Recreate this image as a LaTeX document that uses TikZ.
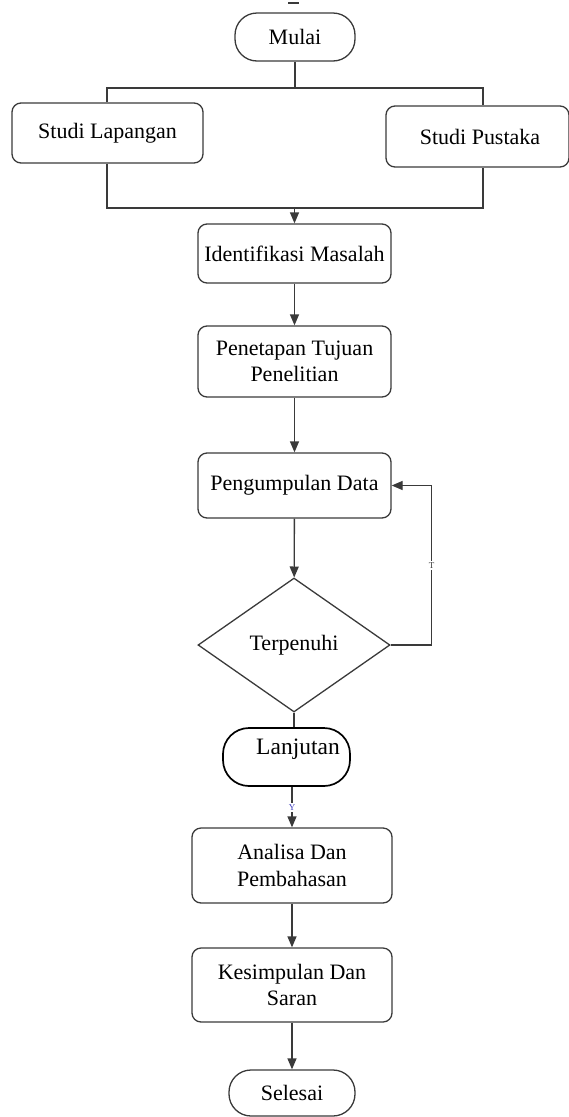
\documentclass[tikz,border=0pt]{standalone}
\usepackage{fontspec}
\setmainfont{Liberation Serif}
\usetikzlibrary{shapes.geometric,arrows.meta}
\definecolor{garis}{HTML}{3A3A3A}
\begin{document}
\begin{tikzpicture}[x=1pt, y=-1pt,
    garis/.style={draw=garis, line width=1.3pt},
    arr/.style={garis, -{Triangle[length=11pt,width=9pt]}},
    proses/.style={garis, rounded corners=9pt, font=\fontsize{22}{26.5}\selectfont, align=center, inner sep=0pt},
    terminal/.style={garis, rounded corners=22pt, font=\fontsize{22}{26.5}\selectfont, inner sep=0pt},
    kondisi/.style={garis, diamond, font=\fontsize{22}{26.5}\selectfont, inner sep=0pt},
    lbl/.style={fill=white, inner sep=1.5pt, font=\fontsize{9}{10}\selectfont}]
  \useasboundingbox (0,0) rectangle (568,1117);

  \draw [garis] (288,3) -- (299,3);

  \node [terminal, minimum width=120pt, minimum height=48pt] (mulai) at (295,37) {Mulai};
  \node [proses, minimum width=191pt, minimum height=60pt] (lapangan) at (107.5,133) {Studi Lapangan};
  \node [proses, minimum width=183pt, minimum height=61pt] (pustaka) at (477.5,136.5) {\hspace{5pt}Studi Pustaka};
  \node [proses, minimum width=193pt, minimum height=59pt] (ident) at (294.5,253.5) {Identifikasi Masalah};
  \node [proses, minimum width=193pt, minimum height=71pt] (tujuan) at (294.5,361.5) {Penetapan Tujuan\\Penelitian};
  \node [proses, minimum width=193pt, minimum height=65pt] (kumpul) at (294.5,485.5) {Pengumpulan Data};
  \node [kondisi, minimum width=192pt, minimum height=134pt] (cek) at (294,645) {Terpenuhi};
  \node [draw=black, line width=1.7pt, rounded corners=26pt, minimum width=127pt, minimum height=58pt] (lanjut) at (286.5,757) {};
  \node [font=\fontsize{23.5}{28}\selectfont, inner sep=0pt] (lanjutteks) at (298,749) {Lanjutan};
  \node [proses, minimum width=200pt, minimum height=75pt] (analisa) at (292,865.5) {Analisa Dan\\Pembahasan};
  \node [proses, minimum width=200pt, minimum height=74pt] (simpul) at (292,985) {Kesimpulan Dan\\Saran};
  \node [terminal, minimum width=126pt, minimum height=46pt] (selesai) at (292,1093) {Selesai};

  \coordinate (atasL) at (107,88);
  \coordinate (atasR) at (483,88);
  \coordinate (bawahL) at (107,208);
  \coordinate (bawahR) at (483,208);

  \draw [garis] (mulai) -- (mulai |- atasL);
  \draw [garis] (atasL |- lapangan.north) -- (atasL) -- (atasR) -- (atasR |- pustaka.north);
  \draw [garis] (bawahL |- lapangan.south) -- (bawahL) -- (bawahR) -- (bawahR |- pustaka.south);
  \draw [arr] (ident.north |- bawahL) -- (ident.north);
  \draw [arr] (ident) -- (tujuan);
  \draw [arr] (tujuan) -- (kumpul);
  \draw [arr] (kumpul) -- (cek);
  \draw [arr] (cek.east) -- ++(41,0) |- node [lbl, pos=0.25, text=black!75] {T} (kumpul.east);
  \draw [garis] (cek.south) -- (cek.south |- lanjut.north);
  \draw [arr] (analisa.north |- lanjut.south) -- node [lbl, text=blue!50!gray] {Y} (analisa.north);
  \draw [arr] (analisa) -- (simpul);
  \draw [arr] (simpul) -- (selesai);
\end{tikzpicture}
\end{document}
